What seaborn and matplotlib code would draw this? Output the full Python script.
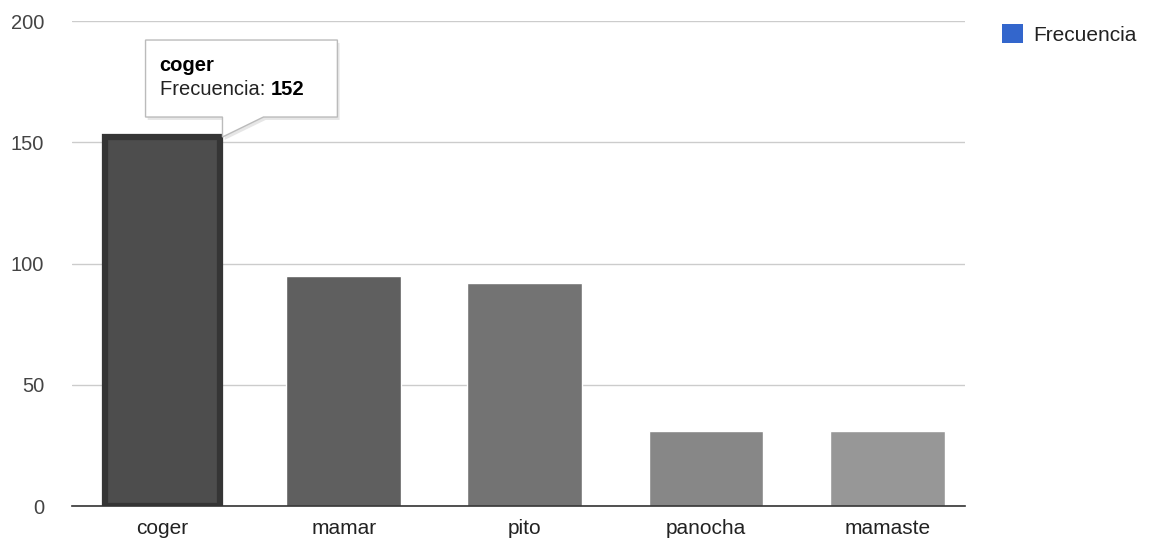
import matplotlib
matplotlib.use("Agg")
import matplotlib.pyplot as plt
from matplotlib.patches import Polygon, Patch
import pandas as pd
import seaborn as sns

sns.set_theme(style="white")
plt.rcParams['font.family'] = ['Liberation Sans', 'DejaVu Sans']

words = ["coger", "mamar", "pito", "panocha", "mamaste"]
freqs = [152, 95, 92, 31, 31]
bar_colors = ["#4d4d4d", "#5f5f5f", "#737373", "#878787", "#979797"]
yticks = [0, 50, 100, 150, 200]

df = pd.DataFrame({"palabra": words, "Frecuencia": freqs})

fig = plt.figure(figsize=(11.53, 5.49), dpi=100)
ax = fig.add_axes([0.0624, 0.0783, 0.7746, 0.8834])

sns.barplot(data=df, x="palabra", y="Frecuencia", hue="palabra",
            palette=bar_colors, width=0.634, legend=False, ax=ax,
            saturation=1)

# highlighted (hovered) bar
hl = ax.patches[0]
hl.set_edgecolor("#353535")
hl.set_linewidth(4.5)

ax.set_ylim(0, 200)
ax.set_xlim(-0.5, 4.43)
ax.set_yticks(yticks)
ax.set_xlabel("")
ax.set_ylabel("")
ax.yaxis.grid(True, color="#cccccc", linewidth=1)
ax.set_axisbelow(True)
for s in ["top", "right", "left"]:
    ax.spines[s].set_visible(False)
ax.spines["bottom"].set_color("#333333")
ax.spines["bottom"].set_linewidth(1.2)
ax.tick_params(axis="both", length=0)
ax.tick_params(axis="y", colors="#444444", pad=20, labelsize=14.5)
ax.tick_params(axis="x", colors="#222222", pad=9, labelsize=15)

# tooltip
px = 181.3   # pixels per category
py = 2.425   # pixels per unit
def d(xp, yp):
    return ((xp - 162) / px, (506 - yp) / py)
pts = [d(145, 40), d(337, 40), d(337, 117), d(263, 117), d(222, 137),
       d(222, 117), d(145, 117)]
shadow = [(x + 0.012, y - 1.2) for x, y in pts]
ax.add_patch(Polygon(shadow, closed=True, facecolor="#e6e6e6", edgecolor="none",
                     zorder=5, clip_on=False))
ax.add_patch(Polygon(pts, closed=True, facecolor="white", edgecolor="#bbbbbb",
                     linewidth=1, zorder=6, clip_on=False))
tx, ty = d(159, 65)
ax.text(tx, ty, words[0], fontsize=14.5, fontweight="bold", color="#000000",
        va="center", ha="left", zorder=7)
tx2, ty2 = d(159, 89)
t1 = ax.text(tx2, ty2, "Frecuencia: ", fontsize=14.5, color="#222222",
             va="center", ha="left", zorder=7)
fig.canvas.draw()
bb = t1.get_window_extent()
x_end = ax.transData.inverted().transform((bb.x1, bb.y0))[0]
ax.text(x_end, ty2, str(freqs[0]), fontsize=14.5, fontweight="bold", color="#000000",
        va="center", ha="left", zorder=7)

# legend
handles = [Patch(facecolor="#3366cc", edgecolor="none", label="Frecuencia")]
fig.legend(handles=handles, loc="upper left", bbox_to_anchor=(0.853, 0.99),
           frameon=False, fontsize=15, handlelength=1.0, handleheight=1.0,
           handletextpad=0.5, labelcolor="#222222")

fig.savefig("out.png", dpi=100, facecolor="white")
